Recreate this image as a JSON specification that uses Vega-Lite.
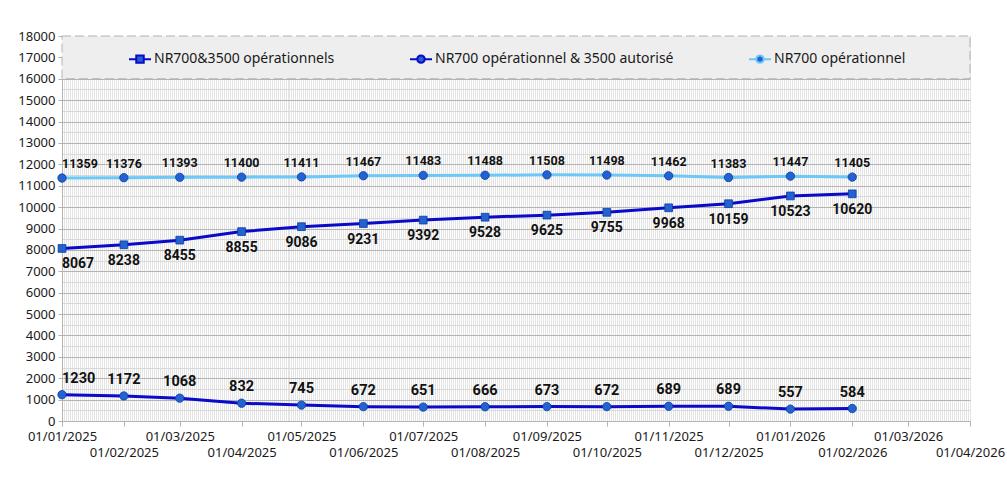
{
  "$schema": "https://vega.github.io/schema/vega-lite/v6.json",
  "width": 908,
  "height": 385,
  "autosize": {"type": "none"},
  "padding": {"left": 62, "top": 36, "right": 37, "bottom": 75},
  "background": "white",
  "data": {
    "values": [
      {"date": "2025-01-01", "series": "NR700 opérationnel", "value": 11359},
      {"date": "2025-02-01", "series": "NR700 opérationnel", "value": 11376},
      {"date": "2025-03-01", "series": "NR700 opérationnel", "value": 11393},
      {"date": "2025-04-01", "series": "NR700 opérationnel", "value": 11400},
      {"date": "2025-05-01", "series": "NR700 opérationnel", "value": 11411},
      {"date": "2025-06-01", "series": "NR700 opérationnel", "value": 11467},
      {"date": "2025-07-01", "series": "NR700 opérationnel", "value": 11483},
      {"date": "2025-08-01", "series": "NR700 opérationnel", "value": 11488},
      {"date": "2025-09-01", "series": "NR700 opérationnel", "value": 11508},
      {"date": "2025-10-01", "series": "NR700 opérationnel", "value": 11498},
      {"date": "2025-11-01", "series": "NR700 opérationnel", "value": 11462},
      {"date": "2025-12-01", "series": "NR700 opérationnel", "value": 11383},
      {"date": "2026-01-01", "series": "NR700 opérationnel", "value": 11447},
      {"date": "2026-02-01", "series": "NR700 opérationnel", "value": 11405},
      {"date": "2025-01-01", "series": "NR700&3500 opérationnels", "value": 8067},
      {"date": "2025-02-01", "series": "NR700&3500 opérationnels", "value": 8238},
      {"date": "2025-03-01", "series": "NR700&3500 opérationnels", "value": 8455},
      {"date": "2025-04-01", "series": "NR700&3500 opérationnels", "value": 8855},
      {"date": "2025-05-01", "series": "NR700&3500 opérationnels", "value": 9086},
      {"date": "2025-06-01", "series": "NR700&3500 opérationnels", "value": 9231},
      {"date": "2025-07-01", "series": "NR700&3500 opérationnels", "value": 9392},
      {"date": "2025-08-01", "series": "NR700&3500 opérationnels", "value": 9528},
      {"date": "2025-09-01", "series": "NR700&3500 opérationnels", "value": 9625},
      {"date": "2025-10-01", "series": "NR700&3500 opérationnels", "value": 9755},
      {"date": "2025-11-01", "series": "NR700&3500 opérationnels", "value": 9968},
      {"date": "2025-12-01", "series": "NR700&3500 opérationnels", "value": 10159},
      {"date": "2026-01-01", "series": "NR700&3500 opérationnels", "value": 10523},
      {"date": "2026-02-01", "series": "NR700&3500 opérationnels", "value": 10620},
      {"date": "2025-01-01", "series": "NR700 opérationnel & 3500 autorisé", "value": 1230},
      {"date": "2025-02-01", "series": "NR700 opérationnel & 3500 autorisé", "value": 1172},
      {"date": "2025-03-01", "series": "NR700 opérationnel & 3500 autorisé", "value": 1068},
      {"date": "2025-04-01", "series": "NR700 opérationnel & 3500 autorisé", "value": 832},
      {"date": "2025-05-01", "series": "NR700 opérationnel & 3500 autorisé", "value": 745},
      {"date": "2025-06-01", "series": "NR700 opérationnel & 3500 autorisé", "value": 672},
      {"date": "2025-07-01", "series": "NR700 opérationnel & 3500 autorisé", "value": 651},
      {"date": "2025-08-01", "series": "NR700 opérationnel & 3500 autorisé", "value": 666},
      {"date": "2025-09-01", "series": "NR700 opérationnel & 3500 autorisé", "value": 673},
      {"date": "2025-10-01", "series": "NR700 opérationnel & 3500 autorisé", "value": 672},
      {"date": "2025-11-01", "series": "NR700 opérationnel & 3500 autorisé", "value": 689},
      {"date": "2025-12-01", "series": "NR700 opérationnel & 3500 autorisé", "value": 689},
      {"date": "2026-01-01", "series": "NR700 opérationnel & 3500 autorisé", "value": 557},
      {"date": "2026-02-01", "series": "NR700 opérationnel & 3500 autorisé", "value": 584}
    ]
  },
  "layer": [
    {
      "data": {"values": [{"band": "legend"}]},
      "mark": {"type": "rect", "fill": "#eeeeee", "stroke": "#b3b3b3", "strokeDash": [9, 4], "strokeWidth": 1},
      "encoding": {
        "x": {
          "datum": {"year": 2025, "month": 1, "date": 1, "utc": true},
          "type": "temporal",
          "scale": {"type": "utc", "domain": [{"year": 2025, "month": 1, "date": 1, "utc": true}, {"year": 2026, "month": 4, "date": 1, "utc": true}], "nice": false},
          "axis": {"orient": "bottom", "title": null, "grid": true, "gridColor": "#e4e4e4", "gridWidth": 1, "tickCount": {"interval": "day", "step": 1}, "labels": false, "ticks": false, "domain": false}
        },
        "x2": {"datum": {"year": 2026, "month": 4, "date": 1, "utc": true}},
        "y": {
          "datum": 16000,
          "type": "quantitative",
          "scale": {"domain": [0, 18000], "nice": false},
          "axis": {"orient": "left", "title": null, "grid": true, "gridColor": "#d9d9d9", "values": [500, 1500, 2500, 3500, 4500, 5500, 6500, 7500, 8500, 9500, 10500, 11500, 12500, 13500, 14500, 15500, 16500, 17500], "labels": false, "ticks": false, "domain": false}
        },
        "y2": {"datum": 18000}
      }
    },
    {
      "mark": {"type": "line", "strokeWidth": 3},
      "encoding": {
        "x": {
          "field": "date",
          "type": "temporal",
          "scale": {"type": "utc", "domain": [{"year": 2025, "month": 1, "date": 1, "utc": true}, {"year": 2026, "month": 4, "date": 1, "utc": true}], "nice": false},
          "axis": {
            "orient": "bottom",
            "title": null,
            "grid": false,
            "tickCount": {"interval": "month", "step": 1},
            "labelExpr": "utcmonth(datum.value) % 2 == 0 ? utcFormat(datum.value, '%d/%m/%Y') : ['', utcFormat(datum.value, '%d/%m/%Y')]",
            "labelOverlap": false,
            "labelFlush": false,
            "labelBound": false,
            "labelBaseline": "top",
            "labelLineHeight": 16,
            "labelPadding": 4,
            "labelFont": "Noto Sans",
            "labelFontSize": 13,
            "labelColor": "#1a1a1a",
            "domainColor": "#b3b3b3",
            "tickColor": "#b3b3b3",
            "tickSize": 5
          }
        },
        "y": {
          "field": "value",
          "type": "quantitative",
          "scale": {"domain": [0, 18000], "nice": false},
          "axis": {
            "orient": "left",
            "title": null,
            "grid": true,
            "gridColor": "#b3b3b3",
            "values": [0, 1000, 2000, 3000, 4000, 5000, 6000, 7000, 8000, 9000, 10000, 11000, 12000, 13000, 14000, 15000, 16000, 17000, 18000],
            "format": "d",
            "labelFont": "Noto Sans",
            "labelFontSize": 13,
            "labelColor": "#1a1a1a",
            "labelPadding": 3,
            "domainColor": "#b3b3b3",
            "tickColor": "#b3b3b3",
            "tickSize": 4
          }
        },
        "color": {
          "field": "series",
          "type": "nominal",
          "scale": {
            "domain": ["NR700&3500 opérationnels", "NR700 opérationnel & 3500 autorisé", "NR700 opérationnel"],
            "range": ["#0a0ac8", "#0a0ac8", "#6cc8f6"]
          },
          "legend": {
            "orient": "none",
            "legendX": 66,
            "legendY": 11,
            "direction": "horizontal",
            "title": null,
            "labelFont": "Noto Sans",
            "labelFontSize": 14,
            "labelColor": "#1a1a1a",
            "labelLimit": 400,
            "labelOffset": 2,
            "columnPadding": 71,
            "symbolSize": 484,
            "symbolStrokeWidth": 2,
            "encode": {
              "symbols": {
                "update": {
                  "shape": {"signal": "datum.value === 'NR700&3500 opérationnels' ? 'M-1,0H-0.34M0.34,0H1M-0.34,-0.34H0.34V0.34H-0.34Z' : 'M-1,0H-0.34M0.34,0H1M-0.34,0A0.34,0.34 0 1,0 0.34,0A0.34,0.34 0 1,0 -0.34,0Z'"},
                  "fill": {"value": "#2262d2"},
                  "fillOpacity": {"value": 1}
                }
              }
            }
          }
        },
        "order": {"field": "date"}
      }
    },
    {
      "transform": [{"filter": "datum.series === 'NR700&3500 opérationnels'"}],
      "mark": {"type": "point", "shape": "square", "filled": true, "opacity": 1, "fill": "#2262d2", "stroke": "#0c3c9c", "strokeWidth": 0.8, "size": 60},
      "encoding": {
        "x": {"field": "date", "type": "temporal", "axis": null},
        "y": {"field": "value", "type": "quantitative", "axis": null}
      }
    },
    {
      "transform": [{"filter": "datum.series !== 'NR700&3500 opérationnels'"}],
      "mark": {"type": "point", "shape": "circle", "filled": true, "opacity": 1, "fill": "#2262d2", "stroke": "#0c3c9c", "strokeWidth": 0.8, "size": 70},
      "encoding": {
        "x": {"field": "date", "type": "temporal", "axis": null},
        "y": {"field": "value", "type": "quantitative", "axis": null}
      }
    },
    {
      "transform": [{"filter": "datum.series === 'NR700 opérationnel'"}],
      "mark": {"type": "text", "dy": -14, "align": {"expr": "utcyear(datum.date) == 2025 && utcmonth(datum.date) == 0 ? 'left' : 'center'"}, "font": "Roboto", "fontSize": 12.5, "fontWeight": "bold", "color": "#111111"},
      "encoding": {
        "x": {"field": "date", "type": "temporal", "axis": null},
        "y": {"field": "value", "type": "quantitative", "axis": null},
        "text": {"field": "value", "type": "quantitative", "format": "d"}
      }
    },
    {
      "transform": [{"filter": "datum.series === 'NR700&3500 opérationnels'"}],
      "mark": {"type": "text", "dy": 16, "align": {"expr": "utcyear(datum.date) == 2025 && utcmonth(datum.date) == 0 ? 'left' : 'center'"}, "font": "Roboto", "fontSize": 14, "fontWeight": "bold", "color": "#111111"},
      "encoding": {
        "x": {"field": "date", "type": "temporal", "axis": null},
        "y": {"field": "value", "type": "quantitative", "axis": null},
        "text": {"field": "value", "type": "quantitative", "format": "d"}
      }
    },
    {
      "transform": [{"filter": "datum.series === 'NR700 opérationnel & 3500 autorisé'"}],
      "mark": {"type": "text", "dy": -16, "align": {"expr": "utcyear(datum.date) == 2025 && utcmonth(datum.date) == 0 ? 'left' : 'center'"}, "font": "Roboto", "fontSize": 14.5, "fontWeight": "bold", "color": "#111111"},
      "encoding": {
        "x": {"field": "date", "type": "temporal", "axis": null},
        "y": {"field": "value", "type": "quantitative", "axis": null},
        "text": {"field": "value", "type": "quantitative", "format": "d"}
      }
    }
  ],
  "resolve": {"axis": {"x": "independent", "y": "independent"}},
  "config": {"view": {"stroke": null}}
}
